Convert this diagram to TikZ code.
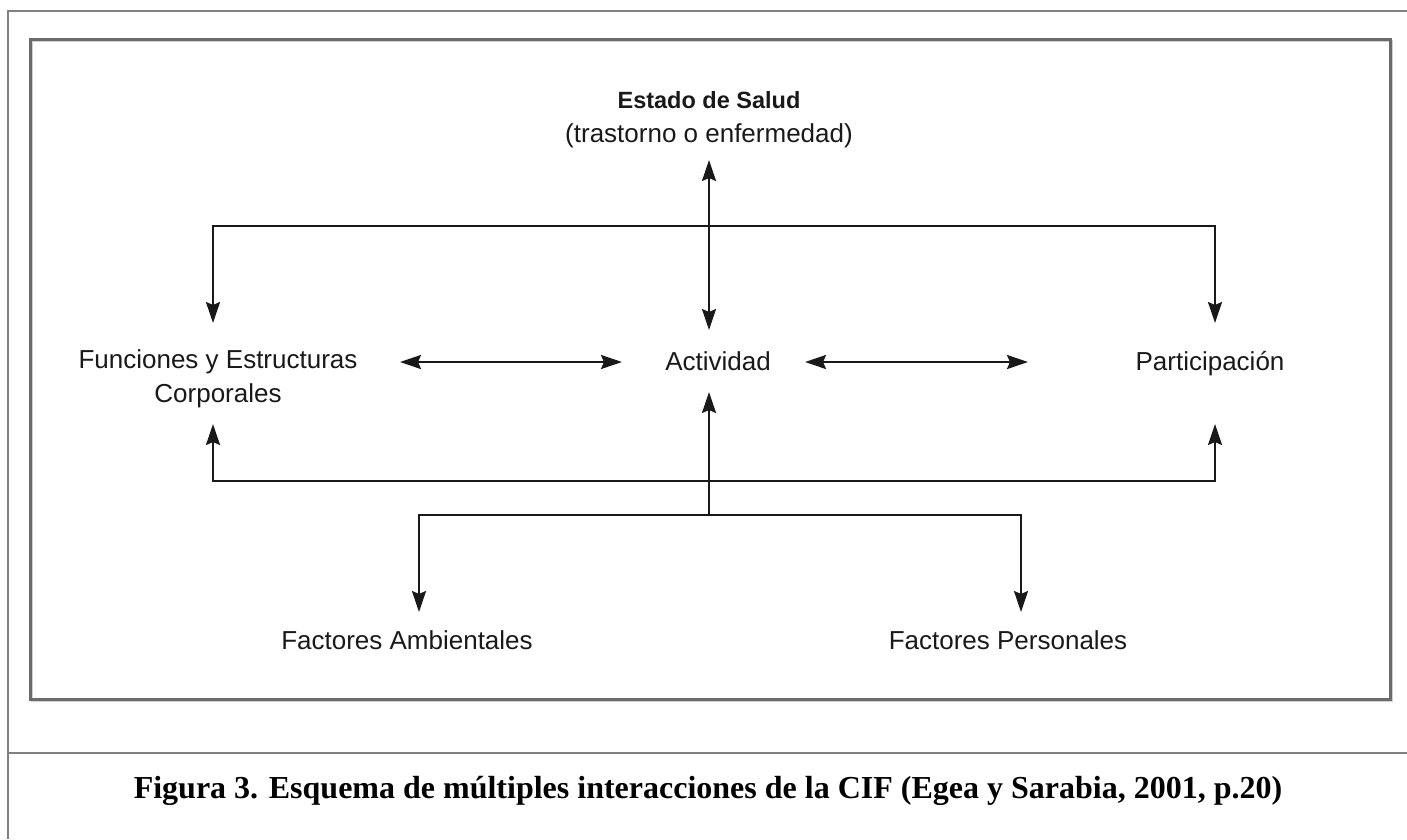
\documentclass[tikz,border=0pt]{standalone}
\usepackage{fontspec}
\setmainfont{Liberation Sans}
\newfontfamily\capfont{Liberation Serif}
\usetikzlibrary{arrows.meta}
\begin{document}
\begin{tikzpicture}[x=1pt,y=-1pt,
  frame/.style={draw=black!50, line width=2.5pt},
  innerbox/.style={draw=black!58, line width=3pt},
  lbl/.style={font=\fontsize{26}{34}\selectfont, text=black!90, align=center, inner sep=0pt, anchor=base},
  conn/.style={draw=black!90, line width=2.2pt, -{Stealth[length=21pt,width=14pt,inset=3pt]}},
  biconn/.style={draw=black!90, line width=2.2pt, {Stealth[length=21pt,width=14pt,inset=3pt]}-{Stealth[length=21pt,width=14pt,inset=3pt]}},
  caption/.style={font=\capfont\bfseries\fontsize{32}{36}\selectfont, text=black, inner sep=0pt, anchor=base}]
\useasboundingbox (0,0) rectangle (1407,839);
% outer frame
\draw[frame] (8,839) -- (8,11) -- (1407,11);
\draw[frame] (8,753) -- (1407,753);
% inner box
\draw[black!18, line width=2pt] (32,41) rectangle (1392,701);
\draw[innerbox] (30,39) rectangle (1390,699);
% nodes (base = baseline of last line)
\node[lbl] (estado) at (709,142) {{\bfseries\fontsize{23.5}{34}\selectfont Estado de Salud}\\(trastorno o enfermedad)};
\node[lbl] (func) at (218,402) {Funciones y Estructuras\\Corporales};
\node[lbl] (act) at (718,370) {Actividad};
\node[lbl] (part) at (1210,370) {Participación};
\node[lbl] (amb) at (407,649) {Factores Ambientales};
\node[lbl] (pers) at (1008,649) {Factores Personales};
\node[caption] (cap) at (708,798) {Figura 3. Esquema de múltiples interacciones de la CIF (Egea y Sarabia, 2001, p.20)};
% coordinates
\coordinate (estB) at (709,160);
\coordinate (actT) at (709,330);
\coordinate (actB) at (709,392);
\coordinate (topC) at (709,226);
\coordinate (funcT) at (213,323);
\coordinate (partT) at (1215,323);
\coordinate (botC) at (709,481);
\coordinate (funcB) at (213,424);
\coordinate (partB) at (1215,424);
\coordinate (facC) at (709,515);
\coordinate (ambT) at (419,612);
\coordinate (persT) at (1021,612);
\coordinate (funcR) at (400,362);
\coordinate (actL) at (622,362);
\coordinate (actR) at (805,362);
\coordinate (partL) at (1028,362);
% connectors
\draw[biconn] (estB) -- (actT);
\draw[biconn] (funcT) |- (topC) -| (partT);
\draw[biconn] (funcB) |- (botC) -| (partB);
\draw[conn] (facC) -- (actB);
\draw[biconn] (ambT) |- (facC) -| (persT);
\draw[biconn] (funcR) -- (actL);
\draw[biconn] (actR) -- (partL);
\end{tikzpicture}
\end{document}
